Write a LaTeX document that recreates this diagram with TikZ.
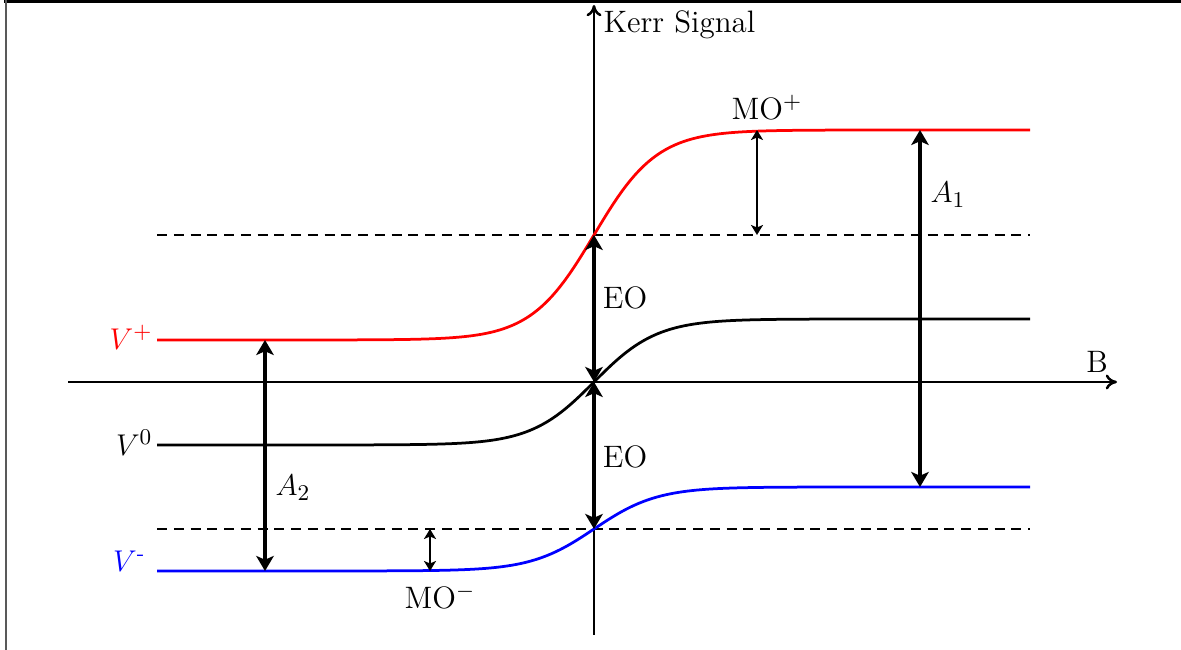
\documentclass[tikz,border=0pt]{standalone}
\usepackage{amsmath}
\usetikzlibrary{arrows.meta}
\begin{document}
\begin{tikzpicture}[x=0.4pt,y=-0.4pt,
  axis/.style={line width=1pt,-{To[length=4.5pt,width=6pt]}},
  curve/.style={line width=1.1pt},
  dashline/.style={line width=0.9pt,dash pattern=on 4pt off 2.7pt},
  bigarrow/.style={line width=1.9pt,{Stealth[length=6pt,width=7pt,inset=1.5pt]}-{Stealth[length=6pt,width=7pt,inset=1.5pt]}},
  smallarrow/.style={line width=0.8pt,{Stealth[length=4pt,width=4.8pt,inset=1pt]}-{Stealth[length=4pt,width=4.8pt,inset=1pt]}},
  lbl/.style={font=\fontsize{12.4}{15}\selectfont,inner sep=0pt}
]
\useasboundingbox (0,0) rectangle (1181,650);
% frame
\draw[line width=1.2pt] (4,2) -- (1181,2);
\draw[line width=0.8pt,black!65] (6,0) -- (6,650);

% named points
\coordinate (xl) at (68,382);
\coordinate (xr) at (1117,382);
\coordinate (yb) at (594,635);
\coordinate (yt) at (594,5);
\coordinate (o) at (594,382);
\coordinate (rmid) at (594,235);
\coordinate (bmid) at (594,529);
\coordinate (mop1) at (757,130);
\coordinate (mop2) at (757,235);
\coordinate (mom1) at (430,529);
\coordinate (mom2) at (430,571);
\coordinate (a1t) at (920,130);
\coordinate (a1b) at (920,487);
\coordinate (a2t) at (265,340);
\coordinate (a2b) at (265,571);
\coordinate (d1l) at (157,235);
\coordinate (d1r) at (1030,235);
\coordinate (d2l) at (157,529);
\coordinate (d2r) at (1030,529);

% dashed lines
\draw[dashline] (d1l) -- (d1r);
\draw[dashline] (d2l) -- (d2r);

% axes
\draw[axis] (xl) -- (xr);
\draw[axis] (yb) -- (yt);
\node[lbl,anchor=west] (kerr) at (603,25) {Kerr Signal};
\node[lbl] (B) at (1097,362) {B};

% curves
\draw[curve,red] plot[domain=157:1030,samples=200] (\x,{235-105*tanh((\x-594)/63)});
\draw[curve,black] plot[domain=157:1030,samples=200] (\x,{382-63*tanh((\x-594)/63)});
\draw[curve,blue] plot[domain=157:1030,samples=200] (\x,{529-42*tanh((\x-594)/63)});

% level labels
\node[lbl,anchor=east,text=red] (vp) at (153,337) {$V^+$};
\node[lbl,anchor=east] (v0) at (153,443) {$V^0$};
\node[lbl,anchor=east,text=blue] (vm) at (146,561) {$V^{\text{-}}$};

% arrows
\draw[bigarrow] (rmid) -- (o);
\draw[bigarrow] (o) -- (bmid);
\draw[bigarrow] (a1t) -- (a1b);
\draw[bigarrow] (a2t) -- (a2b);
\draw[smallarrow] (mop1) -- (mop2);
\draw[smallarrow] (mom1) -- (mom2);

% labels
\node[lbl] (eo1) at (625,298) {EO};
\node[lbl] (eo2) at (625,457) {EO};
\node[lbl] (mop) at (767,108) {MO$^+$};
\node[lbl] (mom) at (440,597) {MO$^-$};
\node[lbl] (a1) at (948,195) {$A_1$};
\node[lbl] (a2) at (293,488) {$A_2$};
\end{tikzpicture}
\end{document}
